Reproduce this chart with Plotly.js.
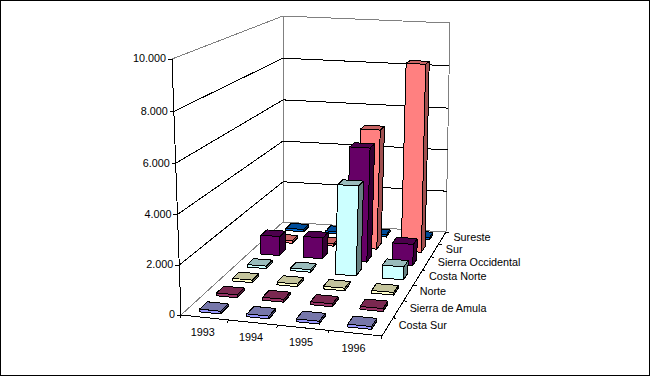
<!DOCTYPE html>
<html><head><meta charset="utf-8">
<script src="https://cdn.plot.ly/plotly-3.0.1.min.js"></script>
<style>html,body{margin:0;padding:0;background:#fff}#c{width:650px;height:376px}
.scatterlayer .js-line,.scatterlayer .js-fill{shape-rendering:crispEdges}</style>
</head><body><div id="c"></div>
<script>
var years=["1993","1994","1995","1996"];
var regions=["Costa Sur","Sierra de Amula","Norte","Costa Norte","Sierra Occidental","Sur","Sureste"];
var costaSur=[110,110,110,110];
var sierraAmula=[120,120,120,120];
var norte=[110,110,110,110];
var costaNorte=[110,110,3900,560];
var sierraOcc=[870,950,5100,950];
var sur=[120,120,5500,8550];
var sureste=[110,110,110,110];
var seriesVals=[costaSur,sierraAmula,norte,costaNorte,sierraOcc,sur,sureste];
var valueTicks=[0,2000,4000,6000,8000,10000];
var valueLabels=["0","2.000","4.000","6.000","8.000","10.000"];
var frontCol=["#9999FF","#993366","#FFFFCC","#CCFFFF","#660066","#FF8080","#0066CC"];
var topCol=["#7777AA","#7A2850","#C4C49C","#99BBBB","#4C004C","#C86464","#004C99"];
var sideCol=["#4C4C80","#4C1933","#808066","#668080","#330033","#A05050","#003366"];
var barHalf=0.225, colShift=0.02, zMax=10000;
var floorQuad=[[181,315],[382,336],[446,232],[283,222]];
var topQuad=[[172,59],[388,66],[450,23],[283,16]];
function homography(q){
  var x0=q[0][0],y0=q[0][1],x1=q[1][0],y1=q[1][1],x2=q[2][0],y2=q[2][1],x3=q[3][0],y3=q[3][1];
  var dx1=x1-x2,dx2=x3-x2,sx=x0-x1+x2-x3,dy1=y1-y2,dy2=y3-y2,sy=y0-y1+y2-y3;
  var d=dx1*dy2-dx2*dy1,g=(sx*dy2-dx2*sy)/d,h=(dx1*sy-sx*dy1)/d;
  var a=x1-x0+g*x1,b=x3-x0+h*x3,e=y1-y0+g*y1,f=y3-y0+h*y3;
  return function(u,v){var w=g*u+h*v+1;return [(a*u+b*v+x0)/w,(e*u+f*v+y0)/w];};
}
var hFloor=homography(floorQuad),hTop=homography(topQuad);
function P(col,row,val){
  var u=col/years.length,v=row/regions.length,t=val/zMax,a=hFloor(u,v),b=hTop(u,v);
  t=t*(1-0.03*(1-t));
  return [a[0]+(b[0]-a[0])*t,a[1]+(b[1]-a[1])*t];
}
function lineTrace(pts,color,w){
  var x=[],y=[];
  pts.forEach(function(p){if(p){x.push(p[0]);y.push(p[1]);}else{x.push(null);y.push(null);}});
  return {type:"scatter",mode:"lines",x:x,y:y,line:{color:color,width:w||1},hoverinfo:"skip",showlegend:false};
}
var traces=[];
var nc=years.length,nr=regions.length;
var grid=[],wall=[];
valueTicks.slice(1,5).forEach(function(t){grid.push(P(0,0,t),P(0,nr,t),P(nc,nr,t),null);});
grid.push(P(0,0,0),P(0,0,zMax),null);
wall.push(P(0,0,zMax),P(0,nr,zMax),P(nc,nr,zMax),P(nc,nr,0),P(0,nr,0),P(0,0,0),null,P(0,nr,0),P(0,nr,zMax));
traces.push(lineTrace(wall,"#808080",1));
traces.push(lineTrace(grid,"#000",1));
var edge=[P(0,0,0),P(nc,0,0),P(nc,nr,0),null];
for(var c=0;c<=nc;c++){var p=P(c,0,0);edge.push(p,[p[0]-0.5,p[1]+3],null);}
for(var r=1;r<=nr;r++){var q=P(nc,r,0);edge.push(q,[q[0]+3,q[1]+1],null);}
valueTicks.forEach(function(t){var p=P(0,0,t);edge.push(p,[p[0]-4,p[1]],null);});
traces.push(lineTrace(edge,"#000",1));
function poly(col,row,val,kind){
  var x0=col+0.5+colShift-barHalf,x1=col+0.5+colShift+barHalf,y0=row+0.5-barHalf,y1=row+0.5+barHalf;
  if(kind==="front")return [P(x0,y0,0),P(x1,y0,0),P(x1,y0,val),P(x0,y0,val),P(x0,y0,0),null];
  if(kind==="side")return [P(x1,y0,0),P(x1,y1,0),P(x1,y1,val),P(x1,y0,val),P(x1,y0,0),null];
  return [P(x0,y0,val),P(x1,y0,val),P(x1,y1,val),P(x0,y1,val),P(x0,y0,val),null];
}
for(var s=nr-1;s>=0;s--){
  [["side",sideCol[s]],["top",topCol[s]],["front",frontCol[s]]].forEach(function(k){
    var pts=[];
    seriesVals[s].forEach(function(v,c){pts=pts.concat(poly(c,s,v,k[0]));});
    var t=lineTrace(pts,"#000",1);
    t.fill="toself";t.fillcolor=k[1];t.name=regions[s];
    traces.push(t);
  });
}
function textTrace(xs,ys,txt,pos){
  return {type:"scatter",mode:"text",x:xs,y:ys,text:txt,textposition:pos,cliponaxis:false,
    textfont:{family:"Liberation Sans, Arial",size:10.8,color:"#000"},hoverinfo:"skip",showlegend:false};
}
var vx=[],vy=[];valueTicks.forEach(function(t){var p=P(0,0,t);vx.push(p[0]-6);vy.push(p[1]+0.7);});
traces.push(textTrace(vx,vy,valueLabels,"middle left"));
var yx=[],yy=[];years.forEach(function(_,c){var p=P(c+0.5,0,0);yx.push(p[0]-1.5);yy.push(p[1]+16);});
traces.push(textTrace(yx,yy,years,"middle center"));
var rx=[],ry=[];regions.forEach(function(_,r){var p=P(nc,r+0.5,0);rx.push(p[0]+11);ry.push(p[1]);});
traces.push(textTrace(rx,ry,regions,"middle right"));
var layout={width:650,height:376,showlegend:false,paper_bgcolor:"#fff",plot_bgcolor:"#fff",
  margin:{l:0,r:0,t:0,b:0},
  xaxis:{range:[0,650],visible:false,fixedrange:true},
  yaxis:{range:[376,0],visible:false,fixedrange:true},
  shapes:[{type:"rect",xref:"paper",yref:"paper",x0:0,x1:1,y0:0,y1:1,line:{color:"#000",width:2},fillcolor:"rgba(0,0,0,0)"}]};
Plotly.newPlot("c",traces,layout,{displayModeBar:false,staticPlot:true});
</script></body></html>
